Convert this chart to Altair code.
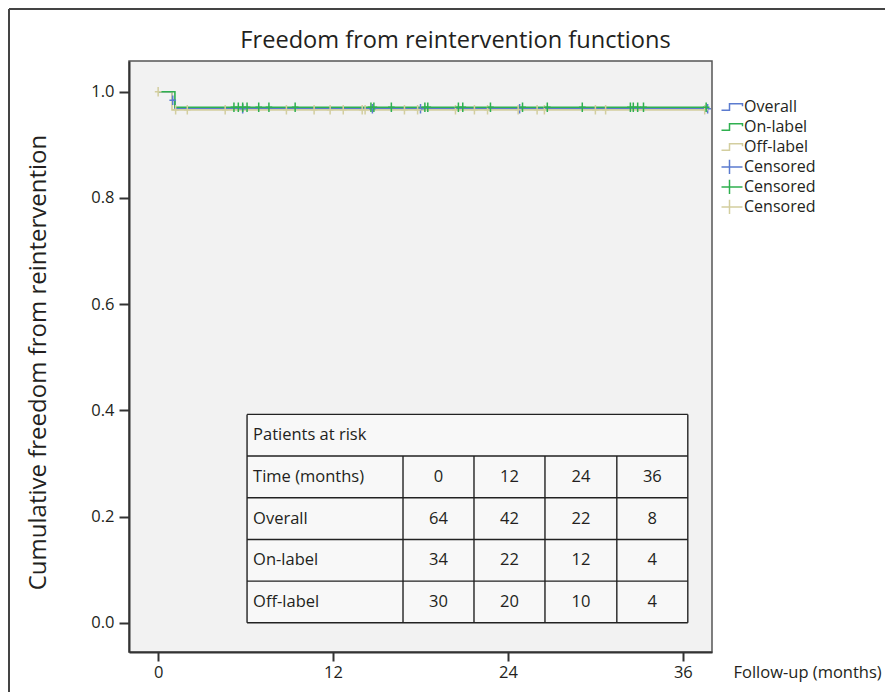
import altair as alt
import pandas as pd

FONT = "Open Sans"
TEXT = "#231f20"

# ---------------- data ----------------
SERIES = ["Overall", "On-label", "Off-label"]
CENS_KEYS = ["Censored (Overall)", "Censored (On-label)", "Censored (Off-label)"]
COLORS = ["#5b7bcf", "#2fb04f", "#d3ce9f"]
TITLE = "Freedom from reintervention functions"

# step curves (time in months, cumulative freedom from reintervention)
overall_t = [0.0, 0.95, 1.15, 37.7]
overall_s = [1.0, 0.984, 0.968, 0.968]
on_t = [0.0, 1.15, 37.6]
on_s = [1.0, 0.971, 0.971]
off_t = [0.0, 0.95, 37.5]
off_s = [1.0, 0.966, 0.966]

# censored observations (months)
overall_cens = [1.0, 5.8, 14.7, 18.0, 24.8, 37.7]
on_cens = [5.2, 5.5, 5.8, 6.1, 6.9, 7.6, 9.4, 14.6, 14.8, 16.0, 18.3, 18.5,
           20.6, 20.9, 22.8, 25.0, 26.7, 29.1, 32.4, 32.6, 32.9, 33.3, 37.6]
off_cens = [0.0, 1.2, 2.0, 4.6, 8.8, 10.7, 11.8, 12.7, 14.0, 14.2, 16.9, 17.8,
            20.4, 21.7, 22.6, 24.7, 26.0, 26.5, 30.0, 30.7, 37.5]

# patients at risk table
risk_header = "Patients at risk"
risk_time_label = "Time (months)"
risk_times = ["0", "12", "24", "36"]
risk_groups = ["Overall", "On-label", "Off-label"]
risk_overall = [64, 42, 22, 8]
risk_on = [34, 22, 12, 4]
risk_off = [30, 20, 10, 4]

# ---------------- layout constants (table placement in plot coords) -------
TABLE_X = [6.1, 16.8, 21.67, 26.54, 31.47, 36.34]
TABLE_Y = [0.3925, 0.314, 0.2355, 0.157, 0.0785, 0.0]

# ---------------- build tables ----------------
curves = {"Overall": (overall_t, overall_s), "On-label": (on_t, on_s), "Off-label": (off_t, off_s)}
cens = {"Overall": overall_cens, "On-label": on_cens, "Off-label": off_cens}
col_of = dict(zip(SERIES, COLORS))


def level(times, surv, t):
    v = surv[0]
    for ti, si in zip(times, surv):
        if ti <= t:
            v = si
    return v


line_frames = {}
cens_frames = {}
for s, ck in zip(SERIES, CENS_KEYS):
    t, sv = curves[s]
    line_frames[s] = pd.DataFrame({"month": t, "surv": sv, "series": s})
    cens_frames[s] = pd.DataFrame({
        "month": cens[s],
        "surv": [level(t, sv, c) for c in cens[s]],
        "series": ck,
    })

ALL_KEYS = SERIES + CENS_KEYS
color_scale = alt.Scale(domain=ALL_KEYS, range=COLORS + COLORS)
STEP = "M -2 0.5 H 0 V -0.5 H 2 V -0.1"
CROSS = "M -2 0 H 2 M 0 -1.1 V 1.1"
shape_scale = alt.Scale(domain=ALL_KEYS, range=[STEP] * 3 + [CROSS] * 3)
PLUS = "M -0.7 0 H 0.7 M 0 -1 V 1"

x_scale = alt.Scale(domain=[-2, 38], nice=False, zero=False)
y_scale = alt.Scale(domain=[-0.055, 1.058], nice=False, zero=False)

x_axis = alt.Axis(values=[0, 12, 24, 36], tickSize=9, labelFontSize=16.5, labelPadding=3,
                  title="Follow-up (months)", titleFontSize=16.5, titleX=604, titleY=20,
                  titleAlign="left", titleBaseline="middle")
y_axis = alt.Axis(values=[0, 0.2, 0.4, 0.6, 0.8, 1.0], format=".1f", tickSize=10,
                  labelPadding=5, labelFontSize=16.5,
                  title="Cumulative freedom from reintervention", titleFontSize=24,
                  titleX=-91, titleY=301, titleAngle=270, titleAlign="center",
                  titleBaseline="middle")

X = alt.X("month:Q", scale=x_scale, axis=x_axis)
Y = alt.Y("surv:Q", scale=y_scale, axis=y_axis)

layers = []

# table background
tbg = pd.DataFrame({"x": [TABLE_X[0]], "x2": [TABLE_X[-1]], "y": [TABLE_Y[-1]], "y2": [TABLE_Y[0]]})
layers.append(alt.Chart(tbg).mark_rect(fill="#f8f8f8").encode(
    x=alt.X("x:Q", scale=x_scale, axis=x_axis), x2="x2:Q",
    y=alt.Y("y:Q", scale=y_scale, axis=y_axis), y2="y2:Q"))

# table grid lines
segs = []
for yv in TABLE_Y:
    segs.append({"x": TABLE_X[0], "x2": TABLE_X[-1], "y": yv, "y2": yv})
for i, xv in enumerate(TABLE_X):
    top = TABLE_Y[0] if i in (0, len(TABLE_X) - 1) else TABLE_Y[1]
    segs.append({"x": xv, "x2": xv, "y": TABLE_Y[-1], "y2": top})
layers.append(alt.Chart(pd.DataFrame(segs)).mark_rule(color="#222", strokeWidth=1.4).encode(
    x=alt.X("x:Q", scale=x_scale, axis=x_axis), x2="x2:Q",
    y=alt.Y("y:Q", scale=y_scale, axis=y_axis), y2="y2:Q"))

# table text
row_mid = [(TABLE_Y[i] + TABLE_Y[i + 1]) / 2 for i in range(len(TABLE_Y) - 1)]
col_mid = [(TABLE_X[i] + TABLE_X[i + 1]) / 2 for i in range(1, len(TABLE_X) - 1)]
left_txt = pd.DataFrame({
    "x": [TABLE_X[0]] * 5,
    "y": row_mid,
    "t": [risk_header, risk_time_label] + risk_groups,
})
cells = []
rows_vals = [risk_times, risk_overall, risk_on, risk_off]
for r, vals in enumerate(rows_vals):
    for c, v in enumerate(vals):
        cells.append({"x": col_mid[c], "y": row_mid[r + 1], "t": str(v)})
layers.append(alt.Chart(left_txt).mark_text(align="left", baseline="middle", dx=6,
                                             font=FONT, fontSize=16.5, color=TEXT).encode(
    x=alt.X("x:Q", scale=x_scale, axis=x_axis), y=alt.Y("y:Q", scale=y_scale, axis=y_axis), text="t:N"))
layers.append(alt.Chart(pd.DataFrame(cells)).mark_text(align="center", baseline="middle",
                                                       font=FONT, fontSize=16.5, color=TEXT).encode(
    x=alt.X("x:Q", scale=x_scale, axis=x_axis), y=alt.Y("y:Q", scale=y_scale, axis=y_axis), text="t:N"))

# survival step lines
for s in ["Overall", "Off-label", "On-label"]:
    layers.append(alt.Chart(line_frames[s]).mark_line(interpolate="step-after", strokeWidth=1.6,
                                                     color=col_of[s]).encode(x=X, y=Y))

# censored marks
for s in ["Overall", "Off-label", "On-label"]:
    layers.append(alt.Chart(cens_frames[s]).mark_point(shape=PLUS, size=90, filled=False,
                                                      strokeWidth=1.5, opacity=1,
                                                      color=col_of[s]).encode(x=X, y=Y))

# legend carrier (no visible marks)
leg_df = pd.DataFrame({"month": [0.0] * 6, "surv": [0.0] * 6, "series": ALL_KEYS})
legend = alt.Legend(title=None, orient="none", legendX=592.5, legendY=36.3, padding=0,
                    symbolSize=169, symbolStrokeWidth=1.5, labelFontSize=16, labelFont=FONT,
                    labelColor=TEXT, labelOffset=6.5, rowPadding=0, clipHeight=19.3,
                    labelExpr="indexof(datum.label, 'Censored') == 0 ? 'Censored' : datum.label")
layers.append(alt.Chart(leg_df).transform_filter("false").mark_point(filled=False, opacity=1).encode(
    x=X, y=Y,
    color=alt.Color("series:N", scale=color_scale, legend=legend),
    shape=alt.Shape("series:N", scale=shape_scale, legend=legend)))

# title as text
one = pd.DataFrame({"a": [0]})
layers.append(alt.Chart(one).mark_text(text=TITLE, font=FONT, fontSize=23.6, color=TEXT,
                                       align="center", baseline="alphabetic").encode(
    x=alt.value(326.5), y=alt.value(-13)))

# outer figure frame (decorative)
layers.append(alt.Chart(one).mark_rule(color="#444", strokeWidth=2).encode(
    x=alt.value(-120), y=alt.value(-52), y2=alt.value(700)))
layers.append(alt.Chart(one).mark_rule(color="#444", strokeWidth=2).encode(
    x=alt.value(-120), x2=alt.value(900), y=alt.value(-52)))

chart = alt.layer(*layers).properties(
    width=583, height=591,
    autosize=alt.AutoSizeParams(type="none"),
    padding={"left": 121, "top": 53, "right": 173, "bottom": 40},
    background="white",
).configure_view(fill="#f2f2f2", stroke="#555", strokeWidth=1.5).configure_axis(
    labelFont=FONT, titleFont=FONT, labelColor=TEXT, titleColor=TEXT,
    domainColor="#333", domainWidth=2, tickColor="#333", tickWidth=2, grid=False,
    titleFontWeight="normal")

chart.save("out.html", embed_options={"renderer": "svg", "actions": False})
